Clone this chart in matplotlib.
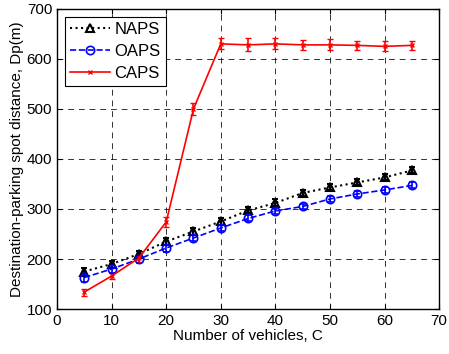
import matplotlib
matplotlib.use("Agg")
import matplotlib.pyplot as plt

plt.rcParams['font.family'] = ['Liberation Sans', 'DejaVu Sans']

vehicles = [5, 10, 15, 20, 25, 30, 35, 40, 45, 50, 55, 60, 65]
naps = [175, 190, 210, 235, 255, 275, 297, 312, 332, 343, 353, 363, 377]
naps_err = [8, 7, 7, 7, 7, 7, 6, 7, 6, 6, 6, 6, 6]
oaps = [163, 180, 200, 222, 242, 262, 281, 296, 305, 320, 330, 338, 347]
oaps_err = [9, 8, 7, 7, 6, 6, 6, 6, 5, 6, 6, 6, 6]
caps = [134, 166, 202, 274, 500, 630, 628, 630, 628, 628, 627, 625, 627]
caps_err = [7, 6, 7, 10, 12, 11, 13, 11, 10, 11, 9, 10, 9]

fig = plt.figure(figsize=(4.49, 3.54), dpi=100)
ax = fig.add_axes([0.127, 0.127, 0.851, 0.848])

e1 = ax.errorbar(vehicles, naps, yerr=naps_err, color='black', linestyle=':', linewidth=1.5,
                 marker='^', markersize=6, markerfacecolor='none', markeredgewidth=1.5,
                 capsize=2)
e2 = ax.errorbar(vehicles, oaps, yerr=oaps_err, color='blue', linestyle='--', linewidth=1.2,
                 marker='o', markersize=6, markerfacecolor='none', markeredgewidth=1.2,
                 capsize=2)
e3 = ax.errorbar(vehicles, caps, yerr=caps_err, color='red', linestyle='-', linewidth=1.2,
                 marker='x', markersize=3, capsize=2)

ax.set_xlim(0, 70)
ax.set_ylim(100, 700)
ax.set_xticks(range(0, 71, 10))
ax.set_yticks(range(100, 701, 100))
ax.grid(True, color='black', linestyle=(0, (6, 5)), linewidth=0.7, alpha=0.8)
ax.tick_params(direction='in', labelsize=11, top=True, right=True)
for s in ax.spines.values():
    s.set_linewidth(1.0)

ax.set_xlabel('Number of vehicles, C', fontsize=11, labelpad=1)
ax.set_ylabel('Destination-parking spot distance, Dp(m)', fontsize=11, labelpad=2)

# legend shows only line + marker, not the error bars
leg = ax.legend([e1[0], e2[0], e3[0]], ['NAPS', 'OAPS', 'CAPS'], loc='upper left',
                fontsize=12, fancybox=False, framealpha=1, edgecolor='black',
                handlelength=2.4, borderpad=0.3, labelspacing=0.4,
                handletextpad=0.25, borderaxespad=0.5)
leg.get_frame().set_linewidth(0.8)

fig.savefig('out.png', dpi=100)
